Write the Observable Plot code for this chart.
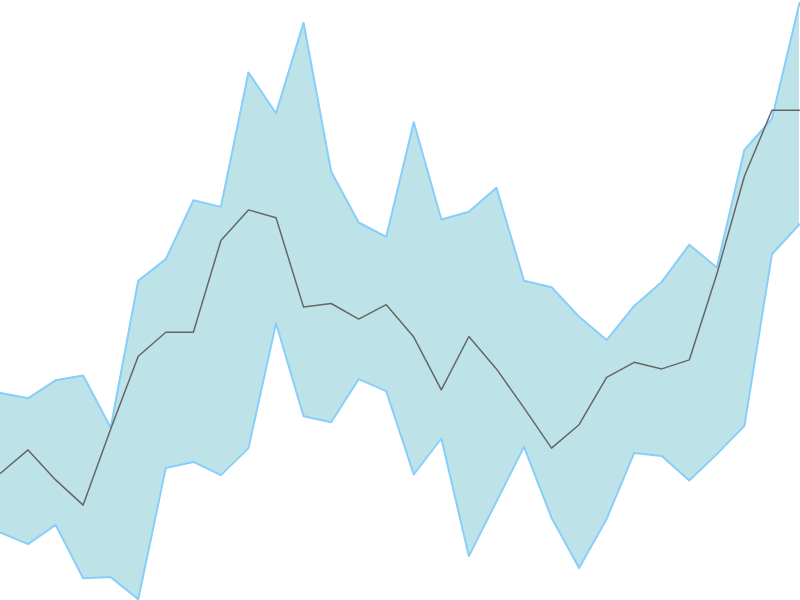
<!DOCTYPE html>
<html>
<head>
<meta charset="utf-8">
<script src="https://cdn.jsdelivr.net/npm/d3@7"></script>
<script src="https://cdn.jsdelivr.net/npm/@observablehq/plot@0.6"></script>
<style>
  html, body { margin: 0; padding: 0; background: #fff; }
  #chart svg { display: block; }
</style>
</head>
<body>
<div id="chart"></div>
<script>
const upper = [34.6, 33.7, 36.7, 37.5, 28.8, 53.3, 56.9, 66.7, 65.6, 88.0,
               81.2, 96.3, 71.5, 63.0, 60.6, 79.7, 63.5, 64.8, 68.8, 53.3,
               52.2, 47.3, 43.4, 49.1, 53.1, 59.3, 55.5, 75.1, 80.3, 99.6];
const lower = [11.3, 9.4, 12.6, 3.7, 3.9, 0.2, 22.1, 23.1, 20.9, 25.4,
               46.2, 30.7, 29.7, 36.9, 34.9, 21.0, 27.0, 7.4, 16.5, 25.6,
               13.8, 5.4, 13.6, 24.6, 24.1, 20.0, 24.4, 29.1, 57.7, 62.7];
const middle = [21.2, 25.1, 20.1, 15.9, 28.6, 40.7, 44.7, 44.7, 60.0, 65.1,
                63.8, 48.9, 49.5, 46.9, 49.3, 43.9, 35.1, 44.0, 38.6, 32.1,
                25.4, 29.3, 37.2, 39.7, 38.6, 40.1, 54.4, 70.7, 81.7, 81.7];

const data = middle.map((m, i) => ({i, m, lo: lower[i], hi: upper[i]}));

const chart = Plot.plot({
  width: 800,
  height: 600,
  margin: 0,
  x: {domain: [0, 29], range: [0, 799], axis: null},
  y: {domain: [0, 100], axis: null},
  marks: [
    Plot.areaY(data, {x: "i", y1: "lo", y2: "hi", fill: "#bde3e8"}),
    Plot.lineY(data, {x: "i", y: "hi", stroke: "#87cefa", strokeWidth: 2}),
    Plot.lineY(data, {x: "i", y: "lo", stroke: "#87cefa", strokeWidth: 2}),
    Plot.lineY(data, {x: "i", y: "m", stroke: "#666", strokeWidth: 1.5})
  ]
});
document.getElementById("chart").appendChild(chart);
</script>
</body>
</html>
